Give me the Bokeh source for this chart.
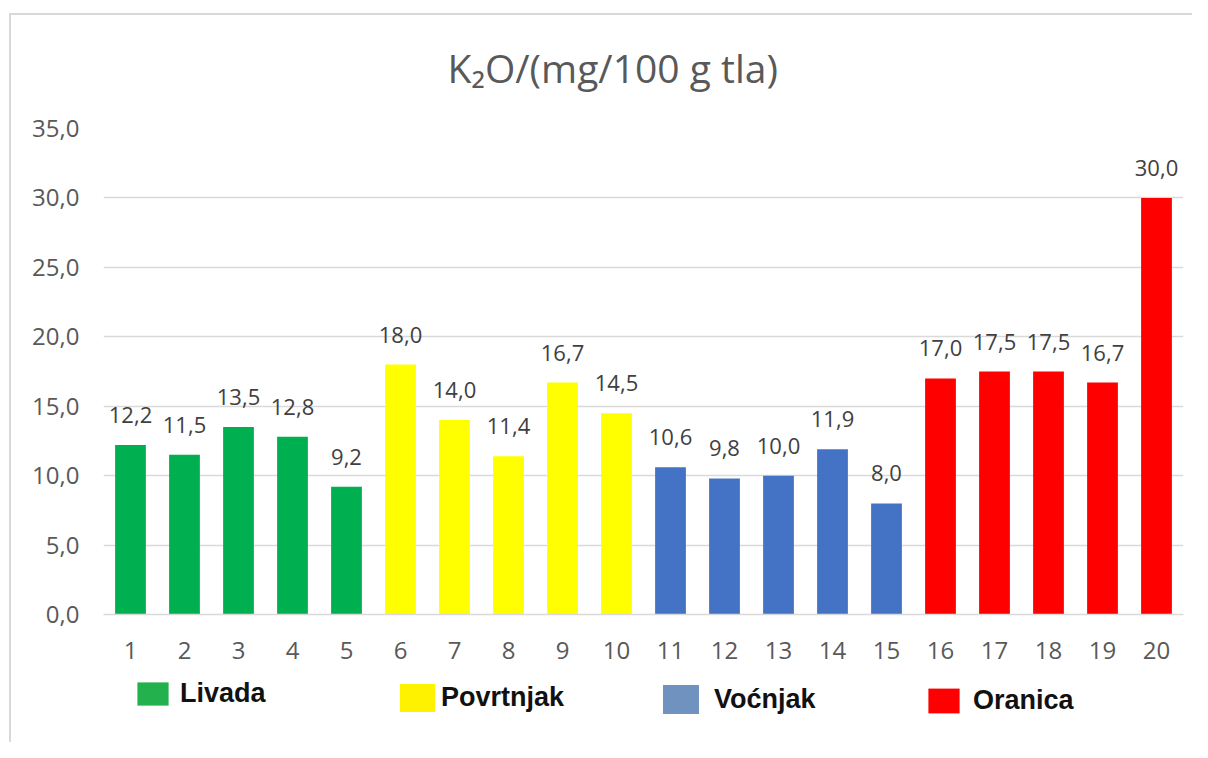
from bokeh.plotting import figure
from bokeh.layouts import column
from bokeh.models import (ColumnDataSource, Range1d, FactorRange, LabelSet, Legend,
                          LegendItem, CustomJSTickFormatter, FixedTicker, InlineStyleSheet)
from bokeh.core.properties import value
from bokeh.embed import file_html
from bokeh.resources import INLINE

# ---------------- data ----------------
categories = ["1", "2", "3", "4", "5", "6", "7", "8", "9", "10",
              "11", "12", "13", "14", "15", "16", "17", "18", "19", "20"]
values = [12.2, 11.5, 13.5, 12.8, 9.2,
          18.0, 14.0, 11.4, 16.7, 14.5,
          10.6, 9.8, 10.0, 11.9, 8.0,
          17.0, 17.5, 17.5, 16.7, 30.0]
groups = ["Livada", "Livada", "Livada", "Livada", "Livada",
          "Povrtnjak", "Povrtnjak", "Povrtnjak", "Povrtnjak", "Povrtnjak",
          "Voćnjak", "Voćnjak", "Voćnjak", "Voćnjak", "Voćnjak",
          "Oranica", "Oranica", "Oranica", "Oranica", "Oranica"]
group_names = ["Livada", "Povrtnjak", "Voćnjak", "Oranica"]
bar_colors = ["#00b050", "#ffff00", "#4472c4", "#ff0000"]
legend_colors = ["#22b14c", "#fff200", "#7092be", "#ff0000"]
y_ticks = [0, 5, 10, 15, 20, 25, 30, 35]
title_text = "K₂O/(mg/100 g tla)"

# ---------------- main chart ----------------
color_of = dict(zip(group_names, bar_colors))
source = ColumnDataSource(data=dict(
    cat=categories,
    val=values,
    color=[color_of[g] for g in groups],
    lbl=[f"{v:.1f}".replace(".", ",") for v in values],
))

p = figure(width=1192, height=676,
           x_range=FactorRange(factors=categories, range_padding=0),
           y_range=Range1d(0, 35),
           output_backend="svg", toolbar_location=None, title=title_text,
           min_border_left=103, min_border_right=9,
           min_border_top=128, min_border_bottom=62)
p.outline_line_color = None
p.background_fill_color = "white"
p.border_fill_color = "white"

p.title.text_font = "Open Sans"
p.title.text_font_size = "39px"
p.title.text_font_style = "normal"
p.title.text_color = "#595959"
p.title.align = "left"
p.title.offset = 344
p.title.standoff = 70

p.vbar(x="cat", top="val", width=0.57, source=source,
       fill_color="color", line_color=None)

p.xgrid.visible = False
p.ygrid.grid_line_color = "#d9d9d9"
p.ygrid.grid_line_width = 1.4
p.yaxis.ticker = FixedTicker(ticks=y_ticks)
p.yaxis.formatter = CustomJSTickFormatter(code="return tick.toFixed(1).replace('.', ',');")
p.axis.major_tick_in = 0
p.axis.major_tick_out = 0
p.axis.minor_tick_in = 0
p.axis.minor_tick_out = 0
p.yaxis.axis_line_color = None
p.xaxis.axis_line_color = "#d9d9d9"
p.xaxis.axis_line_width = 1.5
p.axis.major_label_text_font = "Open Sans"
p.axis.major_label_text_font_size = "24px"
p.axis.major_label_text_color = "#595959"
p.yaxis.major_label_standoff = 24
p.xaxis.major_label_standoff = 27

labels = LabelSet(x="cat", y="val", text="lbl", source=source,
                  y_offset=22, text_align="center", text_baseline="alphabetic",
                  text_font=value("Open Sans"), text_font_size="22px",
                  text_color="#404040")
p.add_layout(labels)

# ---------------- legend strip ----------------
leg = figure(width=1192, height=66, x_range=Range1d(0, 1), y_range=Range1d(0, 1),
             output_backend="svg", toolbar_location=None, title=None,
             x_axis_location=None, y_axis_location=None, min_border=0)
leg.outline_line_color = None
leg.background_fill_color = "white"
leg.border_fill_color = "white"
leg.xgrid.visible = False
leg.ygrid.visible = False

legend_x = [30, 292, 555, 821]
legend_y = [33, 27, 25, 26]
glyph_w = [39, 44, 45, 39]
glyph_h = [29, 35, 36, 31]
standoff = [8, 2, 11, 10]
for name, col, lx, ly, gw, gh, so in zip(group_names, legend_colors, legend_x, legend_y,
                                         glyph_w, glyph_h, standoff):
    # zero-height swatch renderer: only its legend glyph is visible
    r = leg.vbar(x=[0.5], top=[0], bottom=[0], width=0.01, fill_color=col, line_color=None)
    lg = Legend(items=[LegendItem(label=name, renderers=[r])],
                location=(lx, ly), orientation="horizontal",
                padding=0, margin=0, spacing=0,
                glyph_width=gw, glyph_height=gh, label_standoff=so,
                label_text_font="Liberation Sans", label_text_font_style="bold",
                label_text_font_size="27px", label_text_color="#111111",
                border_line_color=None, background_fill_alpha=0)
    leg.add_layout(lg)

layout = column(p, leg, spacing=0)
layout.stylesheets = [InlineStyleSheet(css="""
:host { position: relative; }
:host::after {
  content: ''; position: absolute; left: 8.5px; top: 12.5px; right: 0; bottom: 0;
  border-left: 2.5px solid #d9d9d9; border-top: 2.5px solid #d9d9d9;
  pointer-events: none; z-index: 10;
}
""")]

open("out.html", "w").write(file_html(layout, INLINE))
